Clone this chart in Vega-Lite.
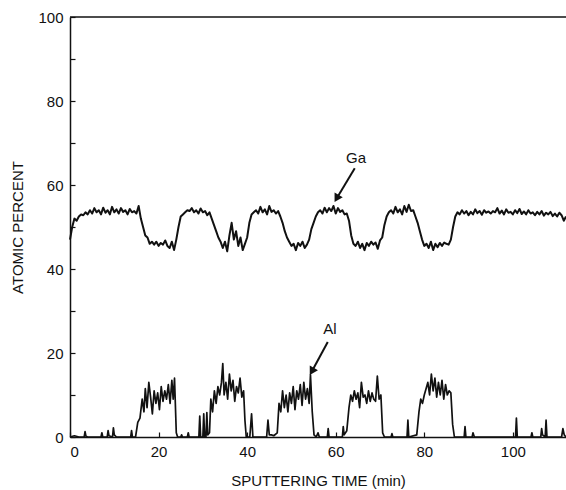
{
  "$schema": "https://vega.github.io/schema/vega-lite/v6.json",
  "width": 496,
  "height": 420,
  "autosize": {"type": "none"},
  "padding": {"left": 70, "top": 17, "right": 0, "bottom": 53},
  "background": "white",
  "config": {
    "view": {"stroke": null},
    "font": "Liberation Sans",
    "axis": {
      "domainColor": "#111",
      "domainWidth": 1.5,
      "tickColor": "#111",
      "tickWidth": 1.2,
      "labelColor": "#111",
      "titleColor": "#111",
      "labelFont": "Liberation Sans",
      "titleFont": "Liberation Sans",
      "labelFontSize": 15,
      "titleFontSize": 15,
      "titleFontWeight": "normal",
      "grid": false
    }
  },
  "datasets": {
    "ga": [
      {"t":0,"v":47},{"t":0.5,"v":50},{"t":1,"v":52},{"t":1.5,"v":51.5},{"t":2,"v":52.5},{"t":2.5,"v":53},{"t":3,"v":52.8},{"t":3.5,"v":53.5},{"t":4,"v":53},{"t":4.5,"v":54},
      {"t":5,"v":53.2},{"t":5.5,"v":54.5},{"t":6,"v":53.5},{"t":6.5,"v":54},{"t":7,"v":53},{"t":7.5,"v":54.6},{"t":8,"v":53.4},{"t":8.5,"v":54},{"t":9,"v":53},{"t":9.5,"v":54.8},
      {"t":10,"v":53.5},{"t":10.5,"v":54.2},{"t":11,"v":53.2},{"t":11.5,"v":54.5},{"t":12,"v":53.6},{"t":12.5,"v":54},{"t":13,"v":53},{"t":13.5,"v":54.3},{"t":14,"v":53.5},{"t":14.5,"v":53.8},
      {"t":15,"v":53.2},{"t":15.5,"v":55},{"t":16,"v":52},{"t":16.5,"v":50},{"t":17,"v":48},{"t":17.5,"v":47.5},{"t":18,"v":46},{"t":18.5,"v":46.5},{"t":19,"v":45.8},{"t":19.5,"v":46.5},
      {"t":20,"v":45.5},{"t":20.5,"v":46.2},{"t":21,"v":45.8},{"t":21.5,"v":46.8},{"t":22,"v":45.5},{"t":22.5,"v":45},{"t":23,"v":46.5},{"t":23.5,"v":44.5},{"t":24,"v":47},{"t":24.5,"v":50},
      {"t":25,"v":52.5},{"t":25.5,"v":53},{"t":26,"v":53.5},{"t":26.5,"v":54},{"t":27,"v":53.8},{"t":27.5,"v":54.5},{"t":28,"v":53.5},{"t":28.5,"v":54},{"t":29,"v":53.2},{"t":29.5,"v":54.4},
      {"t":30,"v":53.5},{"t":30.5,"v":53.8},{"t":31,"v":52.8},{"t":31.5,"v":53.5},{"t":32,"v":52},{"t":32.5,"v":50.5},{"t":33,"v":49},{"t":33.5,"v":47.5},{"t":34,"v":46.5},{"t":34.5,"v":45},
      {"t":35,"v":46.5},{"t":35.5,"v":44.2},{"t":36,"v":48},{"t":36.5,"v":51},{"t":37,"v":47},{"t":37.5,"v":49},{"t":38,"v":45.5},{"t":38.5,"v":47.5},{"t":39,"v":44.5},{"t":39.5,"v":46},
      {"t":40,"v":47.5},{"t":40.5,"v":51},{"t":41,"v":53},{"t":41.5,"v":53.5},{"t":42,"v":54},{"t":42.5,"v":53.2},{"t":43,"v":54.8},{"t":43.5,"v":53.5},{"t":44,"v":54.2},{"t":44.5,"v":53},
      {"t":45,"v":55},{"t":45.5,"v":53.6},{"t":46,"v":54},{"t":46.5,"v":53.2},{"t":47,"v":53.8},{"t":47.5,"v":52.5},{"t":48,"v":51},{"t":48.5,"v":49},{"t":49,"v":47.5},{"t":49.5,"v":46.5},
      {"t":50,"v":45.5},{"t":50.5,"v":46},{"t":51,"v":44.5},{"t":51.5,"v":46.2},{"t":52,"v":45.5},{"t":52.5,"v":46.5},{"t":53,"v":45},{"t":53.5,"v":45.8},{"t":54,"v":47},{"t":54.5,"v":49.5},
      {"t":55,"v":51},{"t":55.5,"v":52.5},{"t":56,"v":53.5},{"t":56.5,"v":54},{"t":57,"v":53.2},{"t":57.5,"v":54.6},{"t":58,"v":53.5},{"t":58.5,"v":54.5},{"t":59,"v":53.8},{"t":59.5,"v":55},
      {"t":60,"v":53.2},{"t":60.5,"v":54.5},{"t":61,"v":53.6},{"t":61.5,"v":54},{"t":62,"v":53},{"t":62.5,"v":53.2},{"t":63,"v":51.5},{"t":63.5,"v":48},{"t":64,"v":46},{"t":64.5,"v":45.5},
      {"t":65,"v":46.5},{"t":65.5,"v":45},{"t":66,"v":46},{"t":66.5,"v":44.5},{"t":67,"v":46.2},{"t":67.5,"v":45.5},{"t":68,"v":46.5},{"t":68.5,"v":45.8},{"t":69,"v":46.3},{"t":69.5,"v":44.8},
      {"t":70,"v":46.8},{"t":70.5,"v":47.5},{"t":71,"v":50.5},{"t":71.5,"v":52.5},{"t":72,"v":53.5},{"t":72.5,"v":54},{"t":73,"v":53.2},{"t":73.5,"v":54.8},{"t":74,"v":53.5},{"t":74.5,"v":54.2},
      {"t":75,"v":53},{"t":75.5,"v":55},{"t":76,"v":53.6},{"t":76.5,"v":55.3},{"t":77,"v":53.8},{"t":77.5,"v":54},{"t":78,"v":52.5},{"t":78.5,"v":51},{"t":79,"v":49},{"t":79.5,"v":47},
      {"t":80,"v":45.5},{"t":80.5,"v":46},{"t":81,"v":45},{"t":81.5,"v":46.5},{"t":82,"v":44.5},{"t":82.5,"v":46},{"t":83,"v":45.2},{"t":83.5,"v":46.2},{"t":84,"v":45.5},{"t":84.5,"v":46.3},
      {"t":85,"v":46},{"t":85.5,"v":45.8},{"t":86,"v":47},{"t":86.5,"v":50},{"t":87,"v":52.5},{"t":87.5,"v":53.5},{"t":88,"v":53},{"t":88.5,"v":54},{"t":89,"v":53.2},{"t":89.5,"v":53.8},
      {"t":90,"v":52.8},{"t":90.5,"v":53.6},{"t":91,"v":53},{"t":91.5,"v":54.2},{"t":92,"v":53.3},{"t":92.5,"v":53.8},{"t":93,"v":52.9},{"t":93.5,"v":54},{"t":94,"v":53.4},{"t":94.5,"v":53.7},
      {"t":95,"v":53.2},{"t":95.5,"v":53.8},{"t":96,"v":53.5},{"t":96.5,"v":54.5},{"t":97,"v":53.2},{"t":97.5,"v":53.9},{"t":98,"v":53},{"t":98.5,"v":54.2},{"t":99,"v":53.4},{"t":99.5,"v":53.6},
      {"t":100,"v":53},{"t":100.5,"v":54},{"t":101,"v":53.3},{"t":101.5,"v":54.3},{"t":102,"v":53.1},{"t":102.5,"v":53.7},{"t":103,"v":53},{"t":103.5,"v":54},{"t":104,"v":53.2},{"t":104.5,"v":53.5},
      {"t":105,"v":52.8},{"t":105.5,"v":53.6},{"t":106,"v":53},{"t":106.5,"v":53.8},{"t":107,"v":52.7},{"t":107.5,"v":53.4},{"t":108,"v":53},{"t":108.5,"v":53.6},{"t":109,"v":52.6},{"t":109.5,"v":53.2},
      {"t":110,"v":52.5},{"t":110.5,"v":53.4},{"t":111,"v":52.8},{"t":111.5,"v":51.5},{"t":112,"v":52.5}
    ],
    "al": [
      {"t":0,"v":0},{"t":1,"v":0.3},{"t":2,"v":0},{"t":3.2,"v":0},{"t":3.4,"v":1.3},{"t":3.6,"v":0.2},{"t":4,"v":0},{"t":7,"v":0},{"t":7.2,"v":1},{"t":7.4,"v":0},
      {"t":8.4,"v":0},{"t":8.6,"v":1.5},{"t":8.8,"v":0.3},{"t":9.6,"v":0},{"t":9.8,"v":2.2},{"t":10,"v":0.5},{"t":10.5,"v":0},{"t":13.7,"v":0},{"t":13.9,"v":1.5},{"t":14.1,"v":0},
      {"t":14.8,"v":0},{"t":15.3,"v":3.5},{"t":15.8,"v":4.5},{"t":16.3,"v":9},{"t":16.7,"v":6},{"t":17,"v":11.5},{"t":17.4,"v":7},{"t":17.8,"v":13},{"t":18.2,"v":9.5},{"t":18.6,"v":5.5},
      {"t":19,"v":11},{"t":19.4,"v":8},{"t":19.8,"v":10.5},{"t":20.2,"v":6.5},{"t":20.6,"v":12},{"t":21,"v":8.5},{"t":21.4,"v":11},{"t":21.8,"v":9},{"t":22.2,"v":12.5},{"t":22.6,"v":8},
      {"t":23,"v":13.5},{"t":23.3,"v":9},{"t":23.6,"v":14},{"t":24,"v":1},{"t":24.3,"v":0},{"t":25,"v":0},{"t":25.2,"v":0.5},{"t":25.4,"v":0},{"t":26.5,"v":0},{"t":26.7,"v":1},
      {"t":26.9,"v":0},{"t":29.1,"v":0},{"t":29.3,"v":5},{"t":29.5,"v":0},{"t":30,"v":0},{"t":30.2,"v":5.5},{"t":30.4,"v":0},{"t":30.7,"v":0},{"t":30.9,"v":5.8},{"t":31.1,"v":0.5},
      {"t":31.5,"v":1},{"t":31.8,"v":9},{"t":32.2,"v":6},{"t":32.6,"v":11},{"t":33,"v":8},{"t":33.4,"v":12},{"t":33.8,"v":10},{"t":34.2,"v":13},{"t":34.5,"v":17.5},{"t":34.8,"v":10},
      {"t":35.2,"v":13},{"t":35.6,"v":9},{"t":36,"v":15},{"t":36.4,"v":11},{"t":36.8,"v":13.5},{"t":37.2,"v":8.5},{"t":37.6,"v":12},{"t":38,"v":10.5},{"t":38.4,"v":14},{"t":38.8,"v":9.5},
      {"t":39.2,"v":11},{"t":39.5,"v":4},{"t":39.8,"v":0},{"t":40.6,"v":0},{"t":41,"v":5.5},{"t":41.3,"v":0},{"t":44.4,"v":0},{"t":44.7,"v":4},{"t":45,"v":0.5},{"t":45.5,"v":0.5},
      {"t":46,"v":0.3},{"t":46.8,"v":1},{"t":47.2,"v":8},{"t":47.6,"v":6},{"t":48,"v":11},{"t":48.4,"v":7},{"t":48.8,"v":10},{"t":49.2,"v":6},{"t":49.6,"v":10.5},{"t":50,"v":8},
      {"t":50.4,"v":12},{"t":50.8,"v":6.5},{"t":51.2,"v":11},{"t":51.6,"v":9},{"t":52,"v":12.5},{"t":52.4,"v":7.5},{"t":52.8,"v":13},{"t":53.2,"v":9},{"t":53.6,"v":11.5},{"t":54,"v":8},
      {"t":54.3,"v":14.8},{"t":54.7,"v":6},{"t":55.1,"v":0.5},{"t":55.6,"v":0},{"t":56,"v":1},{"t":56.3,"v":0},{"t":58.1,"v":0},{"t":58.3,"v":2},{"t":58.5,"v":0},{"t":61.5,"v":0},
      {"t":61.7,"v":2.5},{"t":61.9,"v":0.5},{"t":62.5,"v":1.5},{"t":63,"v":7},{"t":63.4,"v":10},{"t":63.8,"v":8.5},{"t":64.2,"v":11},{"t":64.6,"v":9},{"t":65,"v":10.5},{"t":65.4,"v":7},
      {"t":65.8,"v":13},{"t":66.2,"v":9.5},{"t":66.6,"v":10},{"t":67,"v":8},{"t":67.4,"v":11},{"t":67.8,"v":8.5},{"t":68.2,"v":10.5},{"t":68.6,"v":9},{"t":69,"v":8.5},{"t":69.4,"v":14.5},
      {"t":69.8,"v":9},{"t":70.2,"v":10},{"t":70.6,"v":1},{"t":71,"v":0},{"t":72.5,"v":0},{"t":72.7,"v":0.8},{"t":72.9,"v":0},{"t":76.1,"v":0},{"t":76.3,"v":4},{"t":76.5,"v":0},
      {"t":78.3,"v":0.5},{"t":78.8,"v":6},{"t":79.2,"v":9},{"t":79.6,"v":8},{"t":80,"v":10},{"t":80.4,"v":11.5},{"t":80.8,"v":13},{"t":81.2,"v":10},{"t":81.6,"v":15},{"t":82,"v":11},
      {"t":82.4,"v":14},{"t":82.8,"v":9.5},{"t":83.2,"v":13},{"t":83.6,"v":10},{"t":84,"v":13.5},{"t":84.4,"v":9},{"t":84.8,"v":12.5},{"t":85.2,"v":10},{"t":85.6,"v":11},{"t":86,"v":10.5},
      {"t":86.4,"v":3},{"t":86.8,"v":0},{"t":89,"v":0},{"t":89.2,"v":2.5},{"t":89.4,"v":0},{"t":90.8,"v":0},{"t":91,"v":1},{"t":91.3,"v":0},{"t":100.6,"v":0},{"t":100.8,"v":4.5},
      {"t":101,"v":0},{"t":104.1,"v":0},{"t":104.3,"v":1},{"t":104.5,"v":0},{"t":106.3,"v":0},{"t":106.5,"v":2},{"t":106.7,"v":0.5},{"t":107.3,"v":0},{"t":107.5,"v":4},{"t":107.7,"v":0},
      {"t":111,"v":0},{"t":111.3,"v":2},{"t":111.6,"v":0.5},{"t":112,"v":0}
    ],
    "labels": [
      {"t":64.6,"v":66.4,"text":"Ga"},
      {"t":58.7,"v":25.7,"text":"Al"}
    ],
    "arrows": [
      {"label":"Ga","t":64.3,"v":64.0,"t2":60.2,"v2":56.8},
      {"label":"Al","t":58.2,"v":22.6,"t2":54.6,"v2":15.6}
    ]
  },
  "encoding": {
    "x": {
      "field": "t", "type": "quantitative",
      "scale": {"domain": [0, 112], "nice": false, "zero": false},
      "axis": {
        "title": "SPUTTERING TIME (min)",
        "values": [0, 20, 40, 60, 80, 100],
        "tickSize": -5,
        "labelPadding": 12,
        "titlePadding": 14
      }
    },
    "y": {
      "field": "v", "type": "quantitative",
      "scale": {"domain": [0, 100], "nice": false},
      "axis": {
        "title": "ATOMIC PERCENT",
        "values": [0, 10, 20, 30, 40, 50, 60, 70, 80, 90, 100],
        "labelExpr": "datum.value % 20 == 0 ? datum.label : ''",
        "tickSize": -5,
        "labelPadding": 12,
        "titlePadding": 12
      }
    }
  },
  "layer": [
    {
      "data": {"values": [{"y": 100}]},
      "mark": {"type": "rule", "color": "#111", "strokeWidth": 1.5},
      "encoding": {"x": null, "y": {"field": "y", "type": "quantitative"}}
    },
    {
      "data": {"name": "ga"},
      "mark": {"type": "line", "color": "#111", "strokeWidth": 2, "strokeJoin": "round"}
    },
    {
      "data": {"name": "al"},
      "mark": {"type": "line", "color": "#111", "strokeWidth": 1.7, "strokeJoin": "round"}
    },
    {
      "data": {"name": "labels"},
      "mark": {"type": "text", "font": "Liberation Sans", "fontSize": 15, "color": "#111"},
      "encoding": {"text": {"field": "text"}}
    },
    {
      "data": {"name": "arrows"},
      "mark": {"type": "rule", "color": "#111", "strokeWidth": 2},
      "encoding": {
        "x2": {"field": "t2"},
        "y2": {"field": "v2"}
      }
    },
    {
      "data": {"name": "arrows"},
      "mark": {"type": "point", "shape": "triangle-up", "filled": true, "color": "#111", "size": 90, "angle": 210, "opacity": 1},
      "encoding": {
        "x": {"field": "t2", "type": "quantitative"},
        "y": {"field": "v2", "type": "quantitative"}
      }
    }
  ]
}
